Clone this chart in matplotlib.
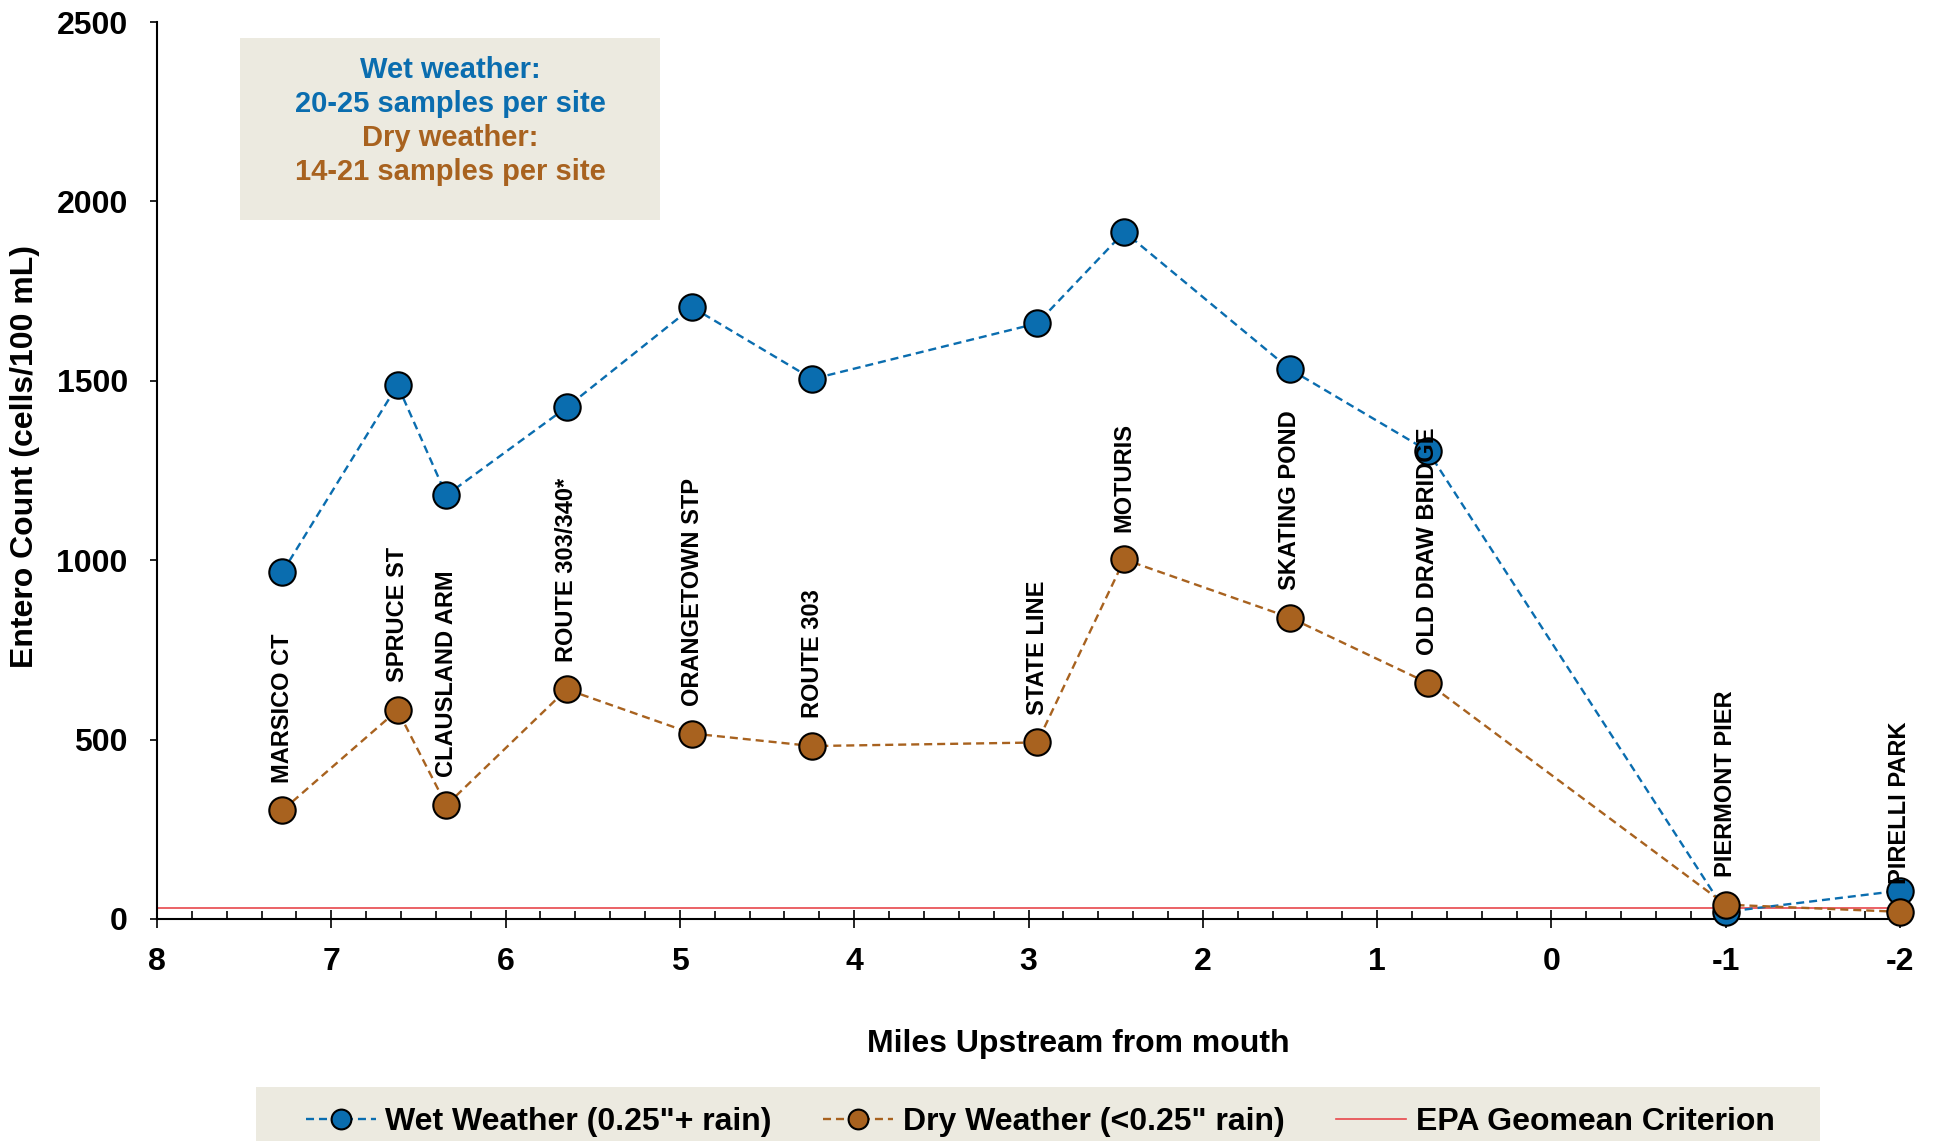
import matplotlib
matplotlib.use("Agg")
import matplotlib.pyplot as plt
from matplotlib.patches import Rectangle

plt.rcParams['font.family'] = ['Liberation Sans', 'DejaVu Sans']
plt.rcParams['font.weight'] = 'bold'

# ---- data ----
sites = ["MARSICO CT", "SPRUCE ST", "CLAUSLAND ARM", "ROUTE 303/340*", "ORANGETOWN STP",
         "ROUTE 303", "STATE LINE", "MOTURIS", "SKATING POND", "OLD DRAW BRIDGE",
         "PIERMONT PIER", "PIRELLI PARK"]
miles = [7.28, 6.62, 6.34, 5.65, 4.93, 4.24, 2.95, 2.45, 1.50, 0.71, -1.0, -2.0]
wet = [967, 1488, 1181, 1426, 1705, 1505, 1660, 1915, 1532, 1305, 20, 79]
dry = [303, 582, 317, 640, 517, 482, 492, 1002, 840, 658, 40, 20]
EPA_CRITERION = 30
x_ticks = [8, 7, 6, 5, 4, 3, 2, 1, 0, -1, -2]
x_tick_labels = ["8", "7", "6", "5", "4", "3", "2", "1", "0", "-1", "-2"]
y_ticks = [0, 500, 1000, 1500, 2000, 2500]

BLUE = '#0A6DAF'
BROWN = '#A8621F'
RED = '#E8474C'
BEIGE = '#ECEAE0'

W, H = 1937, 1141
fig = plt.figure(figsize=(W / 100, H / 100), dpi=100)
ax = fig.add_axes([157 / W, 1 - 919 / H, (1900 - 157) / W, (919 - 22) / H])

ax.axhline(EPA_CRITERION, color=RED, lw=1.2, zorder=1, label='EPA Geomean Criterion')
ax.plot(miles, wet, linestyle=(0, (3.4, 2.1)), lw=1.7, color=BLUE, marker='o',
        markersize=19, markerfacecolor=BLUE, markeredgecolor='black', markeredgewidth=1.5,
        clip_on=False, zorder=3, label='Wet Weather (0.25"+ rain)')
ax.plot(miles, dry, linestyle=(0, (3.4, 2.1)), lw=1.7, color=BROWN, marker='o',
        markersize=19, markerfacecolor=BROWN, markeredgecolor='black', markeredgewidth=1.5,
        clip_on=False, zorder=4, label='Dry Weather (<0.25" rain)')

for s, x, d in zip(sites, miles, dry):
    ax.annotate(s, xy=(x, d), xytext=(0, 20), textcoords='offset points',
                rotation=90, ha='center', va='bottom', fontsize=17, fontweight='bold',
                zorder=5)

ax.set_xlim(8, -2)
ax.set_ylim(0, 2500)
ax.set_xticks(x_ticks)
ax.set_xticklabels(x_tick_labels)
ax.set_xticks([v / 5 for v in range(-10, 41)], minor=True)
ax.set_yticks(y_ticks)
ax.set_yticklabels([str(v) for v in y_ticks])

for sp in ['top', 'right']:
    ax.spines[sp].set_visible(False)
for sp in ['left', 'bottom']:
    ax.spines[sp].set_linewidth(1.5)

ax.tick_params(axis='x', which='major', direction='inout', length=13, width=1.2,
               pad=14, labelsize=23)
ax.tick_params(axis='x', which='minor', direction='in', length=6, width=1.2)
ax.tick_params(axis='y', which='major', direction='out', length=5, width=1.2,
               pad=16, labelsize=23)
for lab in ax.get_xticklabels() + ax.get_yticklabels():
    lab.set_fontweight('bold')

fig.text(25 / W, 1 - 457 / H, 'Entero Count (cells/100 mL)', rotation=90,
         ha='center', va='center', fontsize=23, fontweight='bold')
fig.text(1078 / W, 1 - 1044 / H, 'Miles Upstream from mouth',
         ha='center', va='center', fontsize=23, fontweight='bold')

# annotation box
fig.patches.append(Rectangle((240 / W, 1 - 220 / H), 420 / W, 182 / H,
                             transform=fig.transFigure, facecolor=BEIGE,
                             edgecolor='none', zorder=0))
box_lines = [("Wet weather:", BLUE), ("20-25 samples per site", BLUE),
             ("Dry weather:", BROWN), ("14-21 samples per site", BROWN)]
for i, (t, c) in enumerate(box_lines):
    fig.text(450 / W, 1 - (70 + 34 * i) / H, t, ha='center', va='center',
             fontsize=21, fontweight='bold', color=c)

# legend background
fig.patches.append(Rectangle((256 / W, 0), (1820 - 256) / W, (1141 - 1087) / H,
                             transform=fig.transFigure, facecolor=BEIGE,
                             edgecolor='none', zorder=0))
handles, labels = ax.get_legend_handles_labels()
order = [1, 2, 0]
leg = fig.legend([handles[i] for i in order], [labels[i] for i in order],
                 loc='center', bbox_to_anchor=(1040 / W, 1 - 1122 / H), ncol=3,
                 frameon=False, fontsize=23, handlelength=2.2, handletextpad=0.3,
                 columnspacing=1.6, markerscale=0.75)
for t in leg.get_texts():
    t.set_fontweight('bold')

fig.savefig('out.png', dpi=100)
